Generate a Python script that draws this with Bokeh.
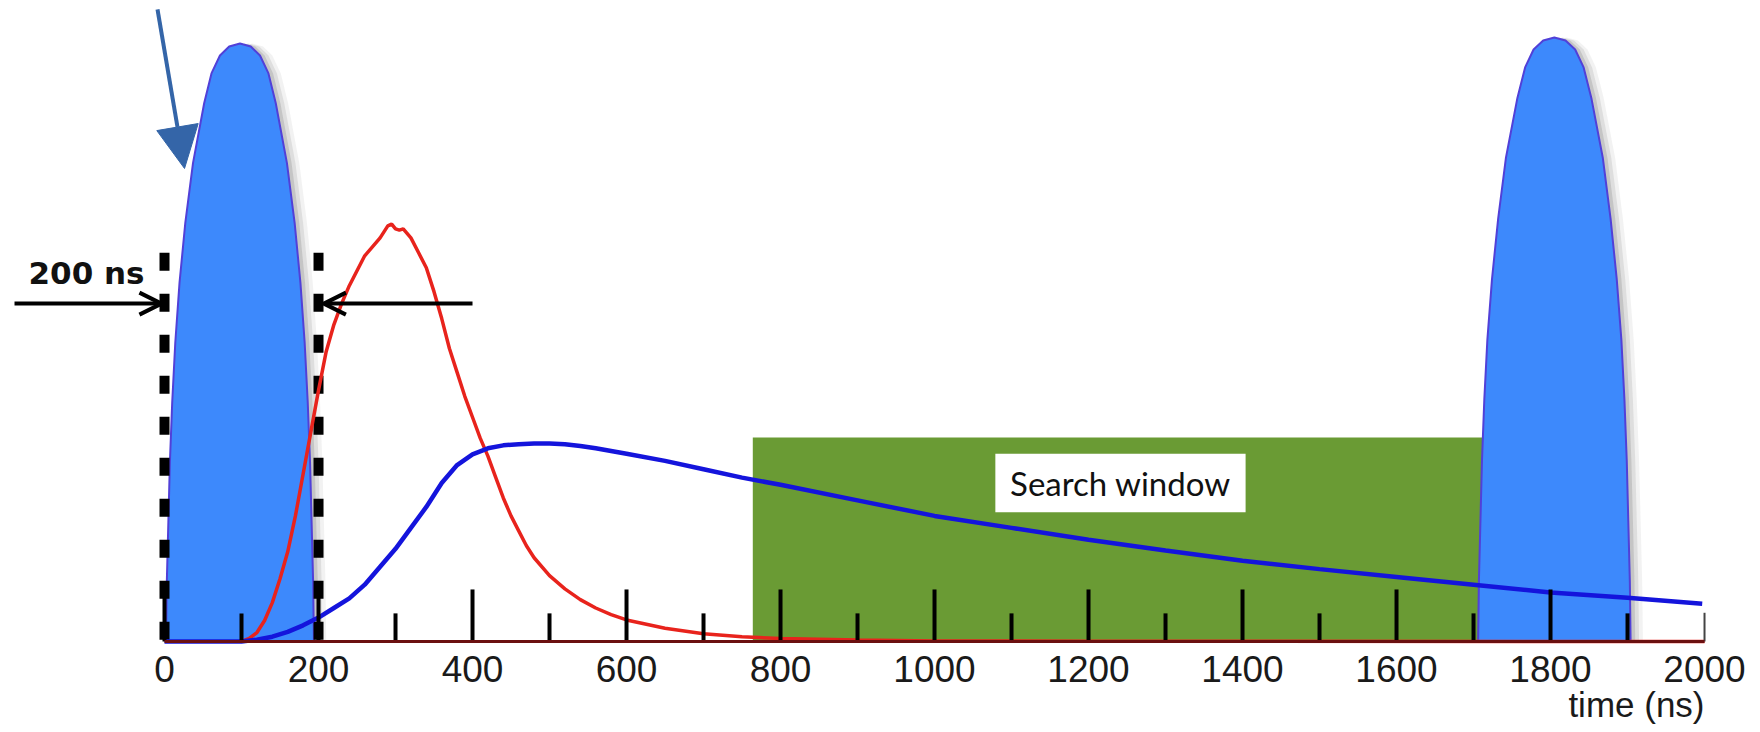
from bokeh.plotting import figure
from bokeh.models import Range1d, LinearAxis, FixedTicker, Label, Arrow, NormalHead, OpenHead
from bokeh.core.properties import value
from bokeh.embed import file_html
from bokeh.resources import INLINE

# ---------------- data (time in ns, amplitude in arbitrary units) ----------------
tick_labels_ns = [0, 200, 400, 600, 800, 1000, 1200, 1400, 1600, 1800, 2000]
major_tick_ns = [0, 200, 400, 600, 800, 1000, 1200, 1400, 1600, 1800]
minor_tick_ns = [100, 300, 500, 700, 900, 1100, 1300, 1500, 1700, 1900]
end_tick_ns = [2000]

# beam pulses (blue shapes)
pulse1_t = [2, 3, 5, 7, 10, 14, 19.5, 27, 37, 51.5, 61, 72, 84, 98,
            112, 124, 135, 144.5, 159, 169, 176.5, 182, 186, 189, 191, 193, 194]
pulse1_a = [0, 10, 20, 30, 40, 50, 60, 70, 80, 90, 95, 98, 99.5, 100,
            99.5, 98, 95, 90, 80, 70, 60, 50, 40, 30, 20, 10, 0]
pulse2_t = [1706, 1707, 1709, 1711, 1714, 1718, 1724, 1732, 1742, 1757, 1767, 1778, 1790.5, 1805,
            1819.5, 1832, 1843, 1853, 1868, 1878, 1886, 1892, 1896, 1899, 1901, 1903, 1904]
pulse2_a = [0, 10.1, 20.2, 30.3, 40.4, 50.5, 60.6, 70.7, 80.8, 90.9, 96, 99, 100.5, 101,
            100.5, 99, 96, 90.9, 80.8, 70.7, 60.6, 50.5, 40.4, 30.3, 20.2, 10.1, 0]

# prompt signal (red)
red_t = [100, 110, 120, 130, 140, 150, 160, 170, 180, 190, 200, 210, 220, 230, 240, 250,
         260, 270, 280, 290, 295, 300, 305, 310, 320, 330, 340, 350, 360, 370, 380, 390,
         400, 410, 420, 430, 440, 450, 460, 470, 480, 500, 520, 540, 560, 580, 600, 650,
         700, 750, 800, 900, 1000, 1200, 2000]
red_a = [0, 0.5, 1.5, 3.5, 6.5, 10.5, 15, 21, 28, 35, 42, 48.5, 53, 56.5, 59.5, 62,
         64.5, 66, 67.5, 69.5, 69.8, 69, 68.8, 69, 67.5, 65, 62.5, 58.5, 54, 49, 45, 41,
         37.5, 34, 31, 27.5, 24, 21, 18.5, 16, 14, 11, 8.8, 7, 5.6, 4.5, 3.6, 2.2,
         1.3, 0.8, 0.5, 0.25, 0.1, 0.05, 0]

# delayed signal (blue)
blue_t = [0, 100, 120, 140, 160, 180, 200, 220, 240, 260, 280, 300, 320, 340, 360, 380,
          400, 420, 440, 460, 480, 500, 520, 540, 560, 600, 650, 700, 750, 800, 900,
          1000, 1100, 1200, 1300, 1400, 1500, 1600, 1700, 1800, 1900, 1997]
blue_a = [0, 0, 0.3, 0.8, 1.6, 2.7, 4, 5.6, 7.2, 9.5, 12.5, 15.5, 19, 22.5, 26.5, 29.5,
          31.3, 32.3, 32.8, 33, 33.1, 33.1, 33, 32.7, 32.3, 31.4, 30.2, 28.8, 27.4, 26.2, 23.6,
          21, 19, 17, 15.2, 13.5, 12.1, 10.8, 9.5, 8.2, 7.3, 6.3]

# annotations
window_t = [764, 1712]          # search window span
window_top = 34.1
box_t = [1079, 1404]            # label box
box_a = [21.6, 31.4]
box_text = "Search window"
gate_t = [0, 200]               # dashed 200 ns gate
gate_top = 65
gate_text = "200 ns"
arrow_left_t = [-194.8, -4]
arrow_right_t = [400, 207]
arrow_a = 56.5
blue_arrow_t = [-9.1, 26]
blue_arrow_a = [105.7, 79.1]
xlabel = "time (ns)"

# ---------------- figure ----------------
p = figure(frame_width=1760, frame_height=725,
           x_range=Range1d(-213, 2072.7), y_range=Range1d(-14.05, 107.19),
           output_backend="svg", toolbar_location=None,
           x_axis_location=None, y_axis_location=None,
           min_border=0, outline_line_color=None,
           background_fill_color="white", border_fill_color="white")
p.xgrid.visible = False
p.ygrid.visible = False

axis = LinearAxis(ticker=FixedTicker(ticks=tick_labels_ns), bounds=(0, 2000),
                  fixed_location=0,
                  major_tick_in=0, major_tick_out=0, minor_tick_in=0, minor_tick_out=0,
                  axis_line_color="#6b1010", axis_line_width=3,
                  major_label_standoff=15,
                  major_label_text_font="Liberation Sans",
                  major_label_text_font_size="37px",
                  major_label_text_color="#1a1a1a")
p.add_layout(axis, "below")

# search window
p.quad(left=[window_t[0]], right=[window_t[1]], bottom=[0], top=[window_top],
       fill_color="#6a9b34", line_color=None)
p.quad(left=[box_t[0]], right=[box_t[1]], bottom=[box_a[0]], top=[box_a[1]],
       fill_color="white", line_color=None)
p.text(x=[(box_t[0] + box_t[1]) / 2], y=[(box_a[0] + box_a[1]) / 2], text=[box_text],
       text_font=value("Lato"), text_font_size="33px", text_color="#111111",
       text_align="center", text_baseline="middle")

# pulse shadows and pulses
for tt, aa in [(pulse1_t, pulse1_a), (pulse2_t, pulse2_a)]:
    for off, alpha in [(16, 0.08), (11, 0.12), (6, 0.18)]:
        p.patch([t + off for t in tt], aa, fill_color="#555555", fill_alpha=alpha, line_color=None)
    p.patch(tt, aa, fill_color="#3d89fc", line_color="#5140d8", line_width=2)

# dashed gate lines
p.segment(x0=gate_t, y0=[gate_top] * len(gate_t), x1=gate_t, y1=[0] * len(gate_t),
          line_color="black", line_width=10, line_dash="18 23")

# signals
p.line(red_t, red_a, line_color="#e8231c", line_width=3.5)
p.line(blue_t, blue_a, line_color="#1414dc", line_width=4.5)

# tick marks
p.segment(x0=major_tick_ns, y0=[0] * len(major_tick_ns), x1=major_tick_ns, y1=[8.7] * len(major_tick_ns),
          line_color="black", line_width=4)
p.segment(x0=minor_tick_ns, y0=[0] * len(minor_tick_ns), x1=minor_tick_ns, y1=[4.7] * len(minor_tick_ns),
          line_color="black", line_width=4)
p.segment(x0=end_tick_ns, y0=[0], x1=end_tick_ns, y1=[4.8], line_color="#444444", line_width=2)

# arrows
p.add_layout(Arrow(end=OpenHead(size=22, line_width=4, line_color="black"),
                   x_start=arrow_left_t[0], y_start=arrow_a, x_end=arrow_left_t[1], y_end=arrow_a,
                   line_color="black", line_width=4))
p.add_layout(Arrow(end=OpenHead(size=22, line_width=4, line_color="black"),
                   x_start=arrow_right_t[0], y_start=arrow_a, x_end=arrow_right_t[1], y_end=arrow_a,
                   line_color="black", line_width=4))
p.add_layout(Arrow(end=NormalHead(size=42, fill_color="#3465a8", line_color="#3465a8"),
                   x_start=blue_arrow_t[0], y_start=blue_arrow_a[0],
                   x_end=blue_arrow_t[1], y_end=blue_arrow_a[1],
                   line_color="#3465a8", line_width=4))

p.add_layout(Label(x=-176.6, y=61.6, text=gate_text, text_font="DejaVu Sans",
                   text_font_style="bold", text_font_size="31px", text_color="#111111",
                   text_baseline="middle"))
p.add_layout(Label(x=2000, y=-10.5, text=xlabel, text_font="Liberation Sans",
                   text_font_size="35px", text_color="#1a1a1a",
                   text_align="right", text_baseline="middle"))

open("out.html", "w").write(file_html(p, INLINE))
